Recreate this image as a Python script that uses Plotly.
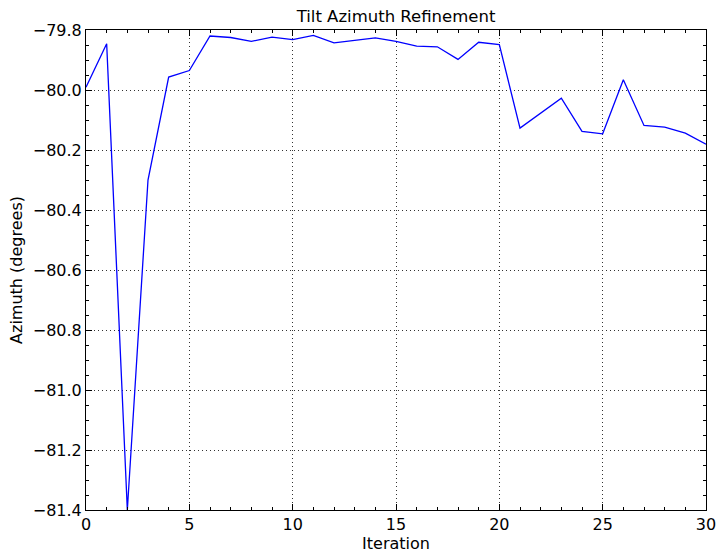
import plotly.graph_objects as go

iterations = list(range(31))
azimuth = [-79.991, -79.846, -81.400, -80.300, -79.957, -79.935, -79.820, -79.825,
           -79.838, -79.824, -79.832, -79.818, -79.843, -79.835, -79.826, -79.838,
           -79.854, -79.856, -79.898, -79.841, -79.849, -80.127, -80.077, -80.027,
           -80.138, -80.146, -79.966, -80.118, -80.124, -80.144, -80.181]

x_ticks = [0, 5, 10, 15, 20, 25, 30]
y_ticks = [-81.4, -81.2, -81.0, -80.8, -80.6, -80.4, -80.2, -80.0, -79.8]
y_labels = [("%.1f" % v).replace("-", "\u2212") for v in y_ticks]

FONT = "DejaVu Sans"

fig = go.Figure()
fig.add_trace(go.Scatter(x=iterations, y=azimuth, mode="lines",
                         line=dict(color="#0000ff", width=1.3), showlegend=False))

axis_common = dict(
    showline=True, linecolor="black", linewidth=1, mirror="allticks",
    ticks="inside", ticklen=6, tickwidth=1, tickcolor="black",
    showgrid=True, gridcolor="#333333", gridwidth=1, griddash="1px,3px",
    zeroline=False,
    tickfont=dict(family=FONT, size=16, color="black"),
)

fig.update_layout(
    width=725, height=555,
    margin=dict(l=86, r=19, t=30, b=45, autoexpand=False),
    paper_bgcolor="white", plot_bgcolor="white",
    title=dict(text="Tilt Azimuth Refinement", x=0.5, xref="paper",
               y=1 - 16 / 555, yref="container", yanchor="middle",
               font=dict(family=FONT, size=16.5, color="black")),
    xaxis=dict(range=[0, 30], tickvals=x_ticks,
               minor=dict(dtick=1, tick0=0, ticks="inside", ticklen=3,
                          tickcolor="black", showgrid=False),
               title=dict(text="Iteration", standoff=2,
                          font=dict(family=FONT, size=16, color="black")),
               **axis_common),
    yaxis=dict(range=[-81.4, -79.8], tickvals=y_ticks, ticktext=y_labels,
               minor=dict(dtick=0.05, tick0=-81.4, ticks="inside", ticklen=3,
                          tickcolor="black", showgrid=False),
               title=dict(text="Azimuth (degrees)", standoff=6,
                          font=dict(family=FONT, size=16, color="black")),
               **axis_common),
)

fig.write_html("out.html", config={"displayModeBar": False},
               post_script="document.body.style.margin='0';document.body.style.overflow='hidden';")
